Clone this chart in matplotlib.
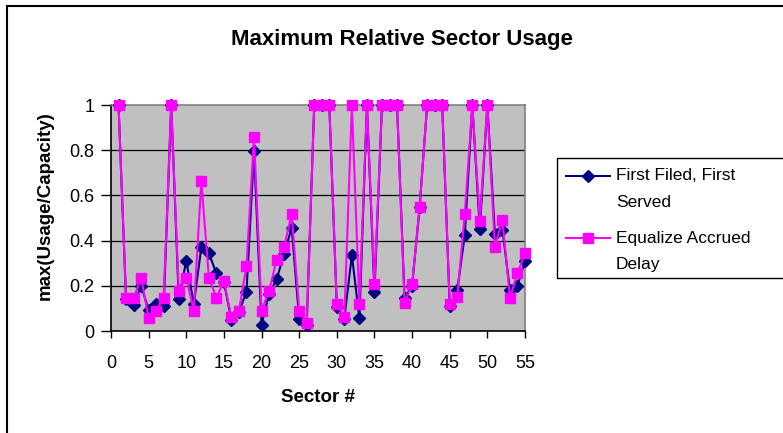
import matplotlib
matplotlib.use("Agg")
import matplotlib.pyplot as plt
from matplotlib.lines import Line2D
from matplotlib.patches import Rectangle

plt.rcParams['font.family'] = ['Liberation Sans', 'DejaVu Sans']

# sector numbers and max(usage/capacity) for the two scheduling schemes
sectors = list(range(1, 56))
fcfs = [1.0, 0.14, 0.115, 0.20, 0.093, 0.12, 0.11, 1.0, 0.142, 0.311,
        0.118, 0.37, 0.344, 0.255, 0.215, 0.049, 0.085, 0.174, 0.796, 0.027,
        0.165, 0.229, 0.34, 0.457, 0.052, 0.027, 1.0, 1.0, 1.0, 0.108,
        0.055, 0.336, 0.056, 1.0, 0.174, 1.0, 1.0, 1.0, 0.145, 0.20,
        0.547, 1.0, 1.0, 1.0, 0.11, 0.18, 0.425, 1.0, 0.451, 1.0,
        0.429, 0.449, 0.18, 0.20, 0.31]
ead = [1.0, 0.145, 0.145, 0.236, 0.059, 0.09, 0.147, 1.0, 0.177, 0.236,
       0.09, 0.664, 0.236, 0.147, 0.221, 0.06, 0.09, 0.288, 0.86, 0.09,
       0.177, 0.314, 0.373, 0.518, 0.09, 0.034, 1.0, 1.0, 1.0, 0.12,
       0.06, 1.0, 0.12, 1.0, 0.206, 1.0, 1.0, 1.0, 0.122, 0.206,
       0.547, 1.0, 1.0, 1.0, 0.12, 0.149, 0.518, 1.0, 0.488, 1.0,
       0.373, 0.49, 0.147, 0.255, 0.344]
labels = [["First Filed, First", "Served"], ["Equalize Accrued", "Delay"]]
xticks = list(range(0, 56, 5))
yticks = [0, 0.2, 0.4, 0.6, 0.8, 1]
ytick_labels = ["0", "0.2", "0.4", "0.6", "0.8", "1"]

W, H = 783, 433
fig = plt.figure(figsize=(W / 100, H / 100), dpi=100)
ax = fig.add_axes([111 / W, 1 - 331 / H, 414 / W, 226 / H])

ax.set_facecolor("#C0C0C0")
for y in yticks[1:-1]:
    ax.axhline(y, color="black", linewidth=0.9, zorder=1)

ax.plot(sectors, fcfs, color="#000080", linewidth=1.5, marker="D",
        markersize=6, markerfacecolor="#000080", markeredgecolor="#000080",
        zorder=3, clip_on=False)
ax.plot(sectors, ead, color="#FF00FF", linewidth=1.5, marker="s",
        markersize=7, markerfacecolor="#FF00FF", markeredgecolor="#FF00FF",
        zorder=4, clip_on=False)

ax.set_xlim(0, 55)
ax.set_ylim(0, 1)
ax.set_xticks(xticks)
ax.set_yticks(yticks)
ax.set_yticklabels(ytick_labels)
ax.tick_params(axis="x", direction="out", length=5, width=1, pad=12,
               labelsize=13)
ax.tick_params(axis="y", direction="out", length=7, width=1, pad=5,
               labelsize=13)
for side in ["top", "right"]:
    ax.spines[side].set_color("#808080")
    ax.spines[side].set_linewidth(1.2)
for side in ["left", "bottom"]:
    ax.spines[side].set_color("black")
    ax.spines[side].set_linewidth(1.2)

fig.text(402 / W, 1 - 40 / H, "Maximum Relative Sector Usage",
         fontsize=16, fontweight="bold", ha="center", va="center")
fig.text(45 / W, 1 - 206 / H, "max(Usage/Capacity)", fontsize=13.5,
         fontweight="bold", rotation=90, ha="center", va="center")
fig.text(318 / W, 1 - 398 / H, "Sector #", fontsize=13.5,
         fontweight="bold", ha="center", va="center")

# legend box, handles aligned with the first line of each label
fig.add_artist(Rectangle((557 / W, 1 - 278 / H), 240 / W, 120 / H,
                         transform=fig.transFigure, facecolor="white",
                         edgecolor="black", linewidth=1))
styles = [("#000080", "D", 6), ("#FF00FF", "s", 7)]
rows = [176, 238]
for (c, m, ms), lab, yy in zip(styles, labels, rows):
    fy = 1 - yy / H
    fig.add_artist(Line2D([566 / W, 610 / W], [fy, fy],
                          transform=fig.transFigure, color=c, linewidth=1.5))
    fig.add_artist(Line2D([588 / W], [fy], transform=fig.transFigure,
                          marker=m, markersize=ms, color=c))
    fig.text(616 / W, fy, lab[0], fontsize=12.5, ha="left", va="center")
    fig.text(616 / W, fy - 26 / H, lab[1], fontsize=12.5, ha="left",
             va="center")

# chart frame
fig.add_artist(Line2D([7.5 / W, 7.5 / W], [0, 1 - 6 / H],
                      transform=fig.transFigure, color="black", linewidth=1.5))
fig.add_artist(Line2D([7.5 / W, 1], [1 - 6 / H, 1 - 6 / H],
                      transform=fig.transFigure, color="black", linewidth=1.5))

fig.savefig("out.png", dpi=100)
